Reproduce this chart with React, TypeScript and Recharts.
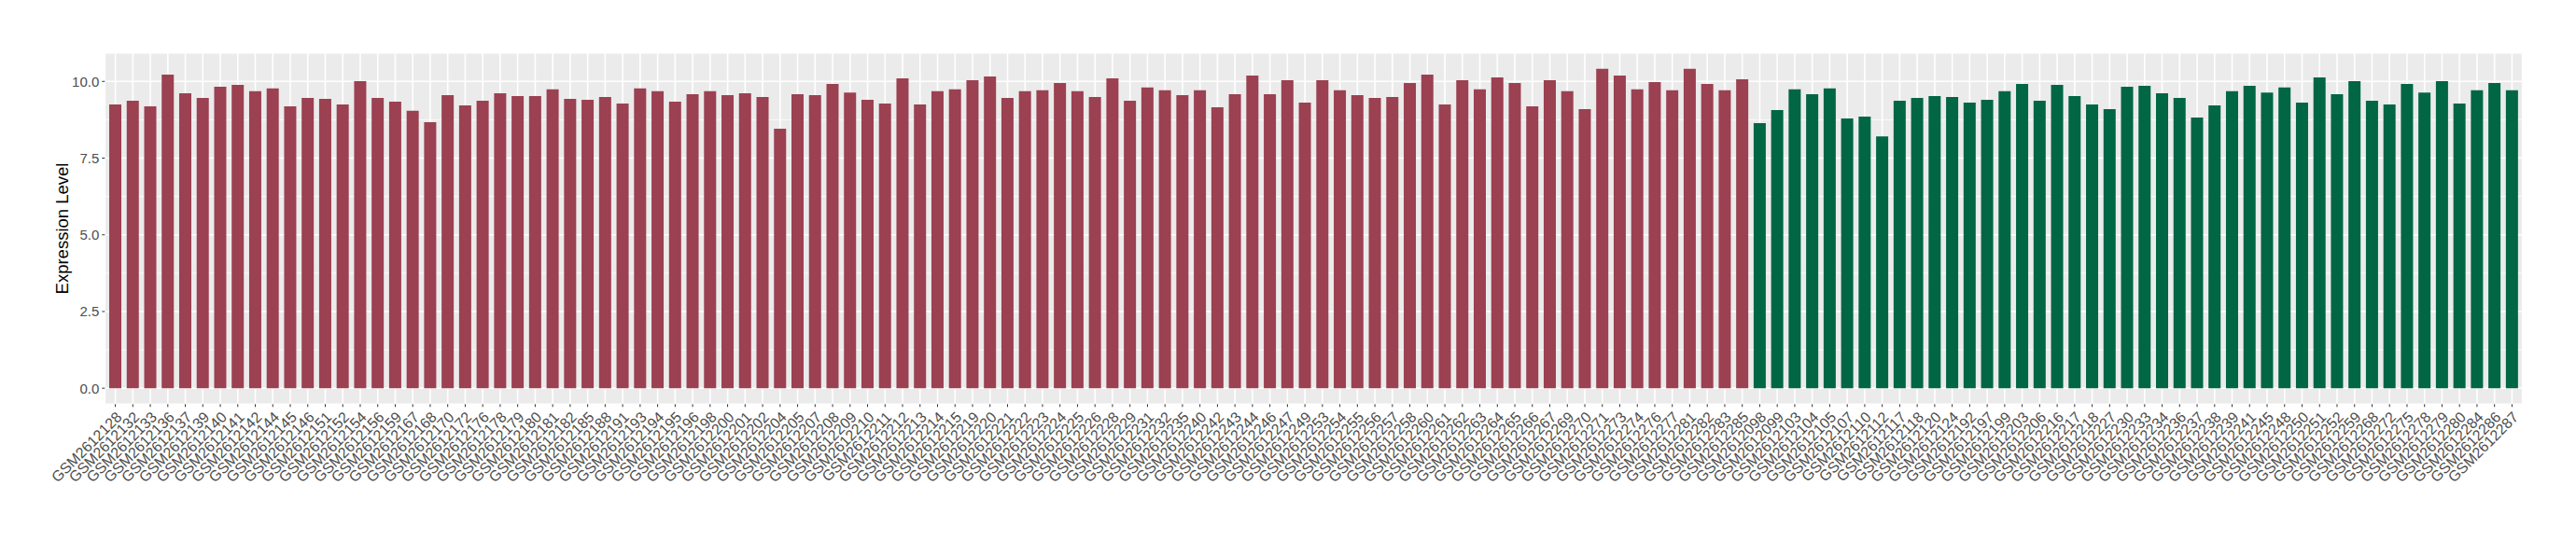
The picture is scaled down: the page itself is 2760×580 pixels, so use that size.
import { BarChart, Bar, XAxis, YAxis, CartesianGrid, Cell, Label } from 'recharts';

// sample ids, in the order they appear on the x axis
const tumourSamples = [
  'GSM2612128', 'GSM2612132', 'GSM2612133', 'GSM2612136', 'GSM2612137', 'GSM2612139', 'GSM2612140', 'GSM2612141',
  'GSM2612142', 'GSM2612144', 'GSM2612145', 'GSM2612146', 'GSM2612151', 'GSM2612152', 'GSM2612154', 'GSM2612156',
  'GSM2612159', 'GSM2612167', 'GSM2612168', 'GSM2612170', 'GSM2612172', 'GSM2612176', 'GSM2612178', 'GSM2612179',
  'GSM2612180', 'GSM2612181', 'GSM2612182', 'GSM2612185', 'GSM2612188', 'GSM2612191', 'GSM2612193', 'GSM2612194',
  'GSM2612195', 'GSM2612196', 'GSM2612198', 'GSM2612200', 'GSM2612201', 'GSM2612202', 'GSM2612204', 'GSM2612205',
  'GSM2612207', 'GSM2612208', 'GSM2612209', 'GSM2612210', 'GSM2612211', 'GSM2612212', 'GSM2612213', 'GSM2612214',
  'GSM2612215', 'GSM2612219', 'GSM2612220', 'GSM2612221', 'GSM2612222', 'GSM2612223', 'GSM2612224', 'GSM2612225',
  'GSM2612226', 'GSM2612228', 'GSM2612229', 'GSM2612231', 'GSM2612232', 'GSM2612235', 'GSM2612240', 'GSM2612242',
  'GSM2612243', 'GSM2612244', 'GSM2612246', 'GSM2612247', 'GSM2612249', 'GSM2612253', 'GSM2612254', 'GSM2612255',
  'GSM2612256', 'GSM2612257', 'GSM2612258', 'GSM2612260', 'GSM2612261', 'GSM2612262', 'GSM2612263', 'GSM2612264',
  'GSM2612265', 'GSM2612266', 'GSM2612267', 'GSM2612269', 'GSM2612270', 'GSM2612271', 'GSM2612273', 'GSM2612274',
  'GSM2612276', 'GSM2612277', 'GSM2612281', 'GSM2612282', 'GSM2612283', 'GSM2612285',
];

const tumourValues = [
  9.25, 9.37, 9.19, 10.22, 9.61, 9.46, 9.83, 9.89, 9.68, 9.77, 9.19, 9.46, 9.43, 9.25, 10.01, 9.46,
  9.34, 9.04, 8.67, 9.55, 9.22, 9.37, 9.61, 9.52, 9.52, 9.74, 9.43, 9.40, 9.49, 9.28, 9.77, 9.68,
  9.34, 9.58, 9.68, 9.55, 9.61, 9.49, 8.46, 9.58, 9.55, 9.92, 9.64, 9.40, 9.28, 10.10, 9.25, 9.68,
  9.74, 10.04, 10.16, 9.46, 9.68, 9.71, 9.95, 9.68, 9.49, 10.10, 9.37, 9.80, 9.71, 9.55, 9.71, 9.16,
  9.58, 10.19, 9.58, 10.04, 9.31, 10.04, 9.71, 9.55, 9.46, 9.49, 9.95, 10.22, 9.25, 10.04, 9.74, 10.13,
  9.95, 9.19, 10.04, 9.68, 9.10, 10.41, 10.19, 9.74, 9.98, 9.71, 10.41, 9.92, 9.71, 10.07,
];

const normalSamples = [
  'GSM2612098', 'GSM2612099', 'GSM2612103', 'GSM2612104', 'GSM2612105', 'GSM2612107', 'GSM2612110', 'GSM2612112',
  'GSM2612117', 'GSM2612118', 'GSM2612120', 'GSM2612124', 'GSM2612192', 'GSM2612197', 'GSM2612199', 'GSM2612203',
  'GSM2612206', 'GSM2612216', 'GSM2612217', 'GSM2612218', 'GSM2612227', 'GSM2612230', 'GSM2612233', 'GSM2612234',
  'GSM2612236', 'GSM2612237', 'GSM2612238', 'GSM2612239', 'GSM2612241', 'GSM2612245', 'GSM2612248', 'GSM2612250',
  'GSM2612251', 'GSM2612252', 'GSM2612259', 'GSM2612268', 'GSM2612272', 'GSM2612275', 'GSM2612278', 'GSM2612279',
  'GSM2612280', 'GSM2612284', 'GSM2612286', 'GSM2612287',
];

const normalValues = [
  8.64, 9.07, 9.74, 9.58, 9.77, 8.79, 8.85, 8.21, 9.37, 9.46, 9.52, 9.49, 9.31, 9.40, 9.68, 9.92,
  9.37, 9.89, 9.52, 9.25, 9.10, 9.83, 9.86, 9.61, 9.46, 8.82, 9.22, 9.68, 9.86, 9.64, 9.80, 9.31,
  10.13, 9.58, 10.01, 9.37, 9.25, 9.92, 9.64, 10.01, 9.28, 9.71, 9.95, 9.71,
];

const yTicks = [0, 2.5, 5, 7.5, 10];
const yMinor = [1.25, 3.75, 6.25, 8.75];

const TUMOUR_COLOR = '#9B4151';
const NORMAL_COLOR = '#006644';

const data = [
  ...tumourSamples.map((s, i) => ({ sample: s, value: tumourValues[i], group: 'tumour' })),
  ...normalSamples.map((s, i) => ({ sample: s, value: normalValues[i], group: 'normal' })),
];

const FONT = '"Liberation Sans", Arial, Helvetica, sans-serif';

const SampleTick = (props: any) => {
  const { x, y, payload } = props;
  return (
    <text
      transform={`translate(${x},${y}) rotate(-45)`}
      textAnchor="end"
      dominantBaseline="hanging"
      fontSize={16}
      fontFamily={FONT}
      fill="#4D4D4D"
    >
      {payload.value}
    </text>
  );
};

const YTitle = () => (
  <text
    x={66}
    y={245}
    transform="rotate(-90 66 245)"
    textAnchor="middle"
    dominantBaseline="central"
    fontSize={18.5}
    fontFamily={FONT}
    fill="#000"
  >
    Expression Level
  </text>
);

export default function App() {
  return (
    <div style={{ position: 'absolute', left: 0, top: 0, width: 2760, height: 580, background: '#fff' }}>
      <BarChart
        width={2760}
        height={580}
        data={data}
        margin={{ top: 56.7, right: 57.3, bottom: 6.7, left: 52.3 }}
        barCategoryGap="15%"
      >
        <CartesianGrid fill="#EBEBEB" stroke="#FFFFFF" strokeWidth={1.6} />
        <CartesianGrid vertical={false} horizontalValues={yMinor} stroke="#FFFFFF" strokeWidth={0.8} />
        <XAxis
          dataKey="sample"
          type="category"
          interval={0}
          height={140}
          padding={{ left: 1.9, right: 1.9 }}
          axisLine={false}
          tickLine={{ stroke: '#333333' }}
          tickSize={3}
          tickMargin={4}
          tick={<SampleTick />}
        />
        <YAxis
          type="number"
          domain={[-0.52, 10.93]}
          allowDataOverflow
          ticks={yTicks}
          tickFormatter={(v: number) => v.toFixed(1)}
          width={60}
          axisLine={false}
          tickLine={{ stroke: '#333333' }}
          tickSize={3}
          tickMargin={3}
          tick={{ fontSize: 15, fontFamily: FONT, fill: '#4D4D4D' }}
        >
          <Label content={() => <YTitle />} />
        </YAxis>
        <Bar dataKey="value" isAnimationActive={false}>
          {data.map((d, i) => (
            <Cell key={`cell-${i}`} fill={d.group === 'tumour' ? TUMOUR_COLOR : NORMAL_COLOR} />
          ))}
        </Bar>
      </BarChart>
    </div>
  );
}
